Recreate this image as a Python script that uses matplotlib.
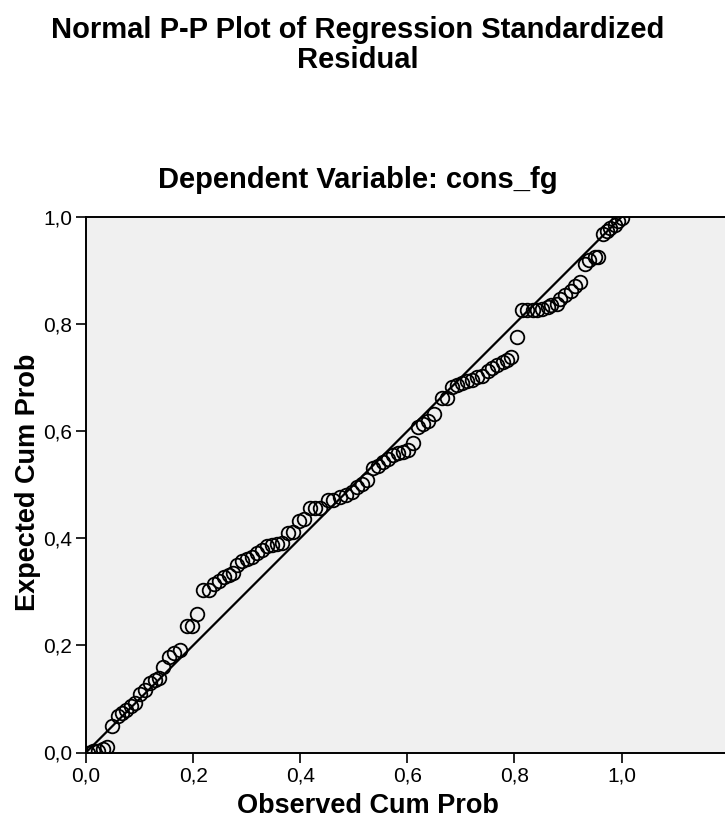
import matplotlib
matplotlib.use("Agg")
import matplotlib.pyplot as plt
from matplotlib import font_manager

observed_cum_prob = [
    0.004, 0.013, 0.022, 0.032, 0.039, 0.049, 0.060, 0.067, 0.075, 0.084,
    0.092, 0.101, 0.110, 0.120, 0.129, 0.136, 0.144, 0.155, 0.164, 0.176,
    0.189, 0.198, 0.207, 0.219, 0.230, 0.239, 0.249, 0.258, 0.267, 0.275,
    0.282, 0.292, 0.301, 0.310, 0.320, 0.329, 0.338, 0.348, 0.357, 0.366,
    0.377, 0.387, 0.398, 0.407, 0.419, 0.428, 0.437, 0.452, 0.462, 0.475,
    0.486, 0.497, 0.507, 0.516, 0.525, 0.536, 0.546, 0.555, 0.564, 0.574,
    0.583, 0.592, 0.602, 0.611, 0.620, 0.630, 0.639, 0.650, 0.665, 0.675,
    0.684, 0.693, 0.703, 0.712, 0.721, 0.731, 0.740, 0.750, 0.759, 0.768,
    0.778, 0.787, 0.794, 0.804, 0.815, 0.824, 0.834, 0.843, 0.852, 0.862,
    0.869, 0.879, 0.886, 0.895, 0.905, 0.914, 0.922, 0.931, 0.940, 0.950,
    0.957, 0.965, 0.972, 0.979, 0.987, 0.994, 1.000,
]
expected_cum_prob = [
    0.000, 0.002, 0.002, 0.006, 0.011, 0.050, 0.069, 0.073, 0.080, 0.086,
    0.092, 0.110, 0.116, 0.129, 0.135, 0.140, 0.159, 0.178, 0.185, 0.191,
    0.236, 0.236, 0.258, 0.303, 0.303, 0.314, 0.320, 0.327, 0.331, 0.335,
    0.351, 0.357, 0.361, 0.365, 0.372, 0.378, 0.385, 0.387, 0.389, 0.391,
    0.409, 0.411, 0.432, 0.436, 0.456, 0.456, 0.456, 0.471, 0.471, 0.477,
    0.480, 0.486, 0.495, 0.501, 0.508, 0.531, 0.535, 0.542, 0.548, 0.556,
    0.559, 0.561, 0.565, 0.578, 0.608, 0.613, 0.619, 0.632, 0.662, 0.662,
    0.682, 0.686, 0.690, 0.693, 0.695, 0.701, 0.703, 0.712, 0.718, 0.723,
    0.729, 0.733, 0.738, 0.776, 0.826, 0.826, 0.826, 0.826, 0.828, 0.832,
    0.835, 0.837, 0.847, 0.854, 0.862, 0.871, 0.879, 0.912, 0.920, 0.925,
    0.925, 0.968, 0.974, 0.979, 0.985, 0.993, 0.998,
]
reference_line = [0.0, 1.0]
tick_values = [0.0, 0.2, 0.4, 0.6, 0.8, 1.0]
tick_labels = ["0,0", "0,2", "0,4", "0,6", "0,8", "1,0"]

title_text = "Normal P-P Plot of Regression Standardized\nResidual"
subtitle_text = "Dependent Variable: cons_fg"
x_label = "Observed Cum Prob"
y_label = "Expected Cum Prob"

names = {f.name for f in font_manager.fontManager.ttflist}
main_font = "Liberation Sans" if "Liberation Sans" in names else "DejaVu Sans"
narrow_font = "Liberation Sans Narrow" if "Liberation Sans Narrow" in names else main_font

W, H = 725, 833
fig = plt.figure(figsize=(W / 100, H / 100), dpi=100)
ax = fig.add_axes([86 / W, 1 - 752.5 / H, (W - 86) / W, 535.5 / H])
ax.set_facecolor("#F0F0F0")

ax.plot(reference_line, reference_line, color="black", lw=1.6, zorder=2)
ax.plot(observed_cum_prob, expected_cum_prob, linestyle="none", marker="o",
        markersize=9.8, markerfacecolor="none", markeredgecolor="black",
        markeredgewidth=1.3, zorder=3)

ax.set_xlim(0, (W - 86) / 535.5)
ax.set_ylim(0, 1.0)
ax.set_xticks(tick_values)
ax.set_xticklabels(tick_labels, fontfamily=narrow_font, fontsize=15)
ax.set_yticks(tick_values)
ax.set_yticklabels(tick_labels, fontfamily=narrow_font, fontsize=15)
ax.tick_params(direction="out", length=7, width=1.2, color="black", pad=3)

for s in ["left", "bottom", "top"]:
    ax.spines[s].set_linewidth(1.4)
    ax.spines[s].set_color("black")
ax.spines["right"].set_visible(False)

ax.set_xlabel(x_label, fontfamily=narrow_font, fontweight="bold", fontsize=19.5)
ax.set_ylabel(y_label, fontfamily=narrow_font, fontweight="bold", fontsize=19.5)
ax.xaxis.set_label_coords((368 - 86) / (W - 86), (752.5 - 806) / 535.5)
ax.yaxis.set_label_coords((28 - 86) / (W - 86), (752.5 - 482) / 535.5)
ax.xaxis.label.set_va("center")
ax.yaxis.label.set_va("center")

fig.text(358 / W, 1 - 45 / H, title_text, ha="center", va="center",
         fontfamily=main_font, fontweight="bold", fontsize=21, linespacing=1.08)
fig.text(358 / W, 1 - 180 / H, subtitle_text, ha="center", va="center",
         fontfamily=main_font, fontweight="bold", fontsize=21)

fig.savefig("out.png", dpi=100, facecolor="white")
